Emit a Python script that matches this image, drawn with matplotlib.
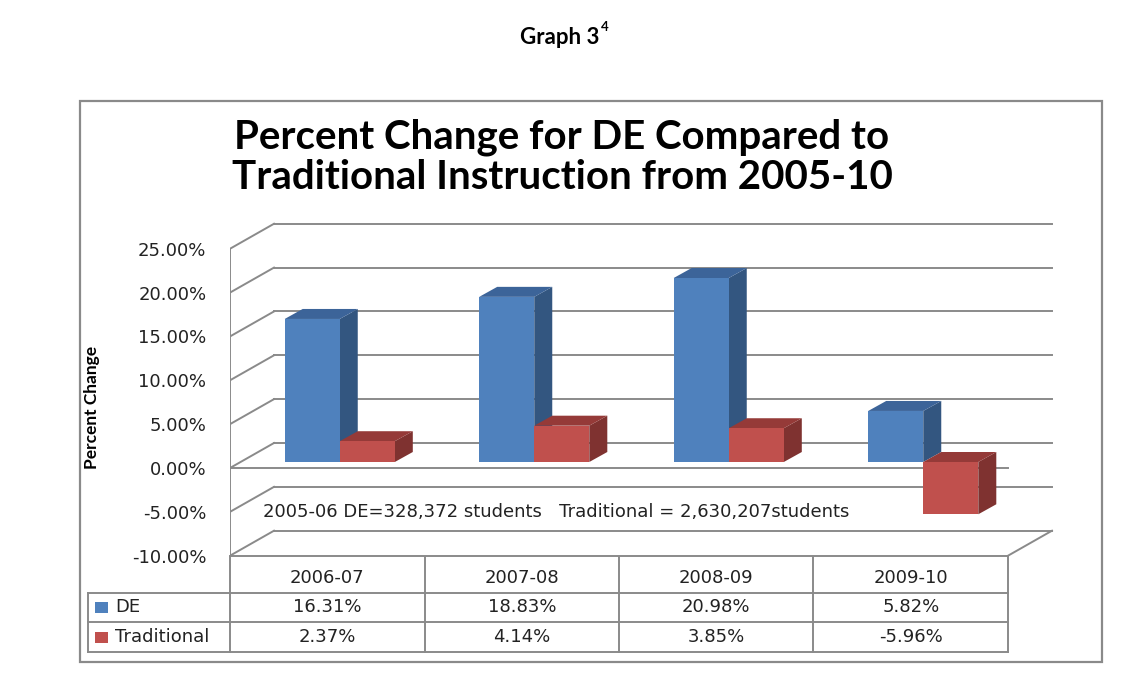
import matplotlib
matplotlib.use("Agg")
import matplotlib.pyplot as plt
from matplotlib.patches import Polygon, Rectangle
from matplotlib.transforms import blended_transform_factory

years = ["2006-07", "2007-08", "2008-09", "2009-10"]
de_change = [16.31, 18.83, 20.98, 5.82]
trad_change = [2.37, 4.14, 3.85, -5.96]
series_names = ["DE", "Traditional"]
y_ticks = [-10, -5, 0, 5, 10, 15, 20, 25]
note = "2005-06 DE=328,372 students   Traditional = 2,630,207students"

# colours: front, side, top
colors = {
    "DE": ("#4f81bd", "#335680", "#3c6499"),
    "Traditional": ("#c0504d", "#7f3230", "#953a38"),
}
grid_col = "#8a8a8a"
txt_col = "#222222"
fs = 13

# layout in figure pixels
W, H = 1136, 682
X0, PX_CAT = 230, 194.5   # front left edge, px per category
Y0, PX_PCT = 468, 8.77    # front zero line, px per percent
DX, DY = 44 / PX_CAT, 25 / PX_PCT          # full depth of the box
F0 = 0.24                                  # depth of bar front face
BDX, BDY = 18 / PX_CAT, 10 / PX_PCT        # bar depth
BAR_W = 0.283

fig = plt.figure(figsize=(W / 100, H / 100), dpi=100)

# overlay axes in pixel coordinates for frame, titles, table
deco = fig.add_axes([0, 0, 1, 1])
deco.set_xlim(0, W)
deco.set_ylim(H, 0)
deco.axis("off")

xlim = (0, 4.3)
ylim = (-10, 28.5)
left = X0 / W
width = (xlim[1] - xlim[0]) * PX_CAT / W
bottom = 1 - (Y0 - ylim[0] * PX_PCT) / H
height = (ylim[1] - ylim[0]) * PX_PCT / H
ax = fig.add_axes([left, bottom, width, height])
ax.set_xlim(*xlim)
ax.set_ylim(*ylim)
for s in ax.spines.values():
    s.set_visible(False)
ax.set_xticks([])
ax.set_yticks(y_ticks)
ax.set_yticklabels([f"{t:.2f}%" for t in y_ticks], fontsize=fs,
                   color=txt_col, family="DejaVu Sans")
ax.tick_params(axis="y", length=0, pad=17)
ax.patch.set_alpha(0)

n = len(years)
lw = 1.4
# walls / gridlines
for t in y_ticks:
    ax.plot([0, DX], [t, t + DY], color=grid_col, lw=lw, zorder=1)
    ax.plot([DX, n + DX], [t + DY, t + DY], color=grid_col, lw=lw, zorder=1)
ax.plot([0, 0], [y_ticks[0], y_ticks[-1]], color=grid_col, lw=lw, zorder=1)
ax.plot([0, n], [0, 0], color=grid_col, lw=lw, zorder=1)
ax.plot([0, n], [y_ticks[0], y_ticks[0]], color=grid_col, lw=lw, zorder=1, clip_on=False)
ax.plot([n, n + DX], [y_ticks[0], y_ticks[0] + DY], color=grid_col, lw=lw, zorder=1, clip_on=False)

# 3d-looking bars
ox, oy = F0 * DX, F0 * DY
z = 3
for i in range(n):
    x_start = i + 0.5 - BAR_W + 0.01
    for k, (name, vals) in enumerate(zip(series_names, [de_change, trad_change])):
        v = vals[i]
        front, side, top = colors[name]
        x1 = x_start + k * BAR_W + ox
        x2 = x1 + BAR_W
        y_lo, y_hi = min(0, v) + oy, max(0, v) + oy
        ax.add_patch(Polygon([(x2, y_lo), (x2 + BDX, y_lo + BDY), (x2 + BDX, y_hi + BDY), (x2, y_hi)],
                             closed=True, facecolor=side, edgecolor="none", zorder=z))
        ax.add_patch(Polygon([(x1, y_hi), (x1 + BDX, y_hi + BDY), (x2 + BDX, y_hi + BDY), (x2, y_hi)],
                             closed=True, facecolor=top, edgecolor="none", zorder=z))
        ax.bar(x1, v, width=BAR_W, bottom=oy, align="edge", color=front, zorder=z + 0.5)
        z += 1

ax.text(0.17, -5, note, fontsize=fs, color=txt_col, family="DejaVu Sans",
        va="center", ha="left", zorder=2)

# chart frame
deco.add_patch(Rectangle((80, 101), 1022, 561, fill=False, edgecolor="#8a8a8a", lw=1.6))

# titles
deco.text(599, 38, "Graph 3", fontsize=16, fontweight="bold", family="Lato",
          ha="right", va="center")
deco.text(601, 27, "4", fontsize=9.5, fontweight="bold", family="Lato",
          ha="left", va="center")
deco.text(562, 157, "Percent Change for DE Compared to\nTraditional Instruction from 2005-10",
          fontsize=29, fontweight="bold", family="Lato", ha="center", va="center",
          linespacing=1.1)
deco.text(92, 407, "Percent Change", rotation=90, fontsize=12.5, fontweight="bold",
          family="Lato", ha="center", va="center")

# data table
tr = blended_transform_factory(ax.transData, deco.transData)
rows = [557, 593, 622, 652]
leg_x = -0.73
tkw = dict(color=grid_col, lw=lw, transform=tr, clip_on=False)
deco.plot([leg_x, n], [rows[1], rows[1]], **tkw)
deco.plot([leg_x, n], [rows[2], rows[2]], **tkw)
deco.plot([leg_x, n], [rows[3], rows[3]], **tkw)
deco.plot([leg_x, leg_x], [rows[1], rows[3]], **tkw)
for i in range(n + 1):
    deco.plot([i, i], [rows[0], rows[3]], **tkw)

for i, yr in enumerate(years):
    deco.text(i + 0.5, (rows[0] + rows[1]) / 2 + 3, yr, transform=tr, ha="center", va="center",
              fontsize=fs, color=txt_col, family="DejaVu Sans")
    for r, vals in enumerate([de_change, trad_change]):
        deco.text(i + 0.5, (rows[r + 1] + rows[r + 2]) / 2, f"{vals[i]:.2f}%", transform=tr,
                  ha="center", va="center", fontsize=fs, color=txt_col, family="DejaVu Sans")

for r, name in enumerate(series_names):
    yc = (rows[r + 1] + rows[r + 2]) / 2
    deco.add_patch(Rectangle((95, yc - 5.5), 13, 11, facecolor=colors[name][0], edgecolor="none"))
    deco.text(115, yc, name, ha="left", va="center", fontsize=fs, color=txt_col,
              family="DejaVu Sans")

fig.savefig("out.png", dpi=100)
